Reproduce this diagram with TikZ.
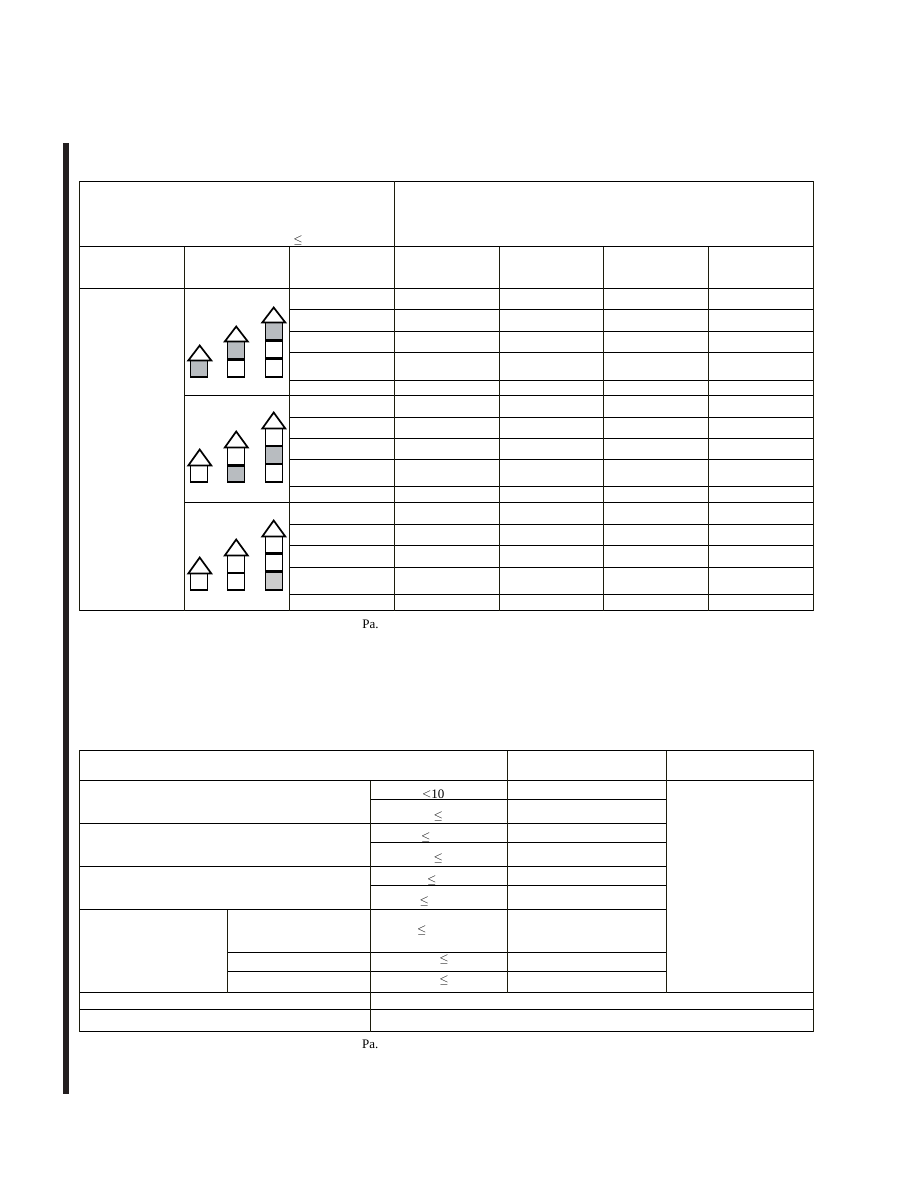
\documentclass[tikz,border=0pt]{standalone}
\usepackage{fontspec}
\setmainfont{Liberation Serif}
\definecolor{rule}{HTML}{1C1C0C}
\definecolor{barcolor}{HTML}{231F20}
\definecolor{shadeA}{HTML}{B8BCC0}
\definecolor{shadeB}{HTML}{CCCCCC}
\tikzset{
  grid line/.style={draw=rule,line width=1pt},
  hline/.style={draw=black,line width=1pt},
  wall/.style={draw=black,line width=1.9pt},
  floorline/.style={draw=black,line width=2.6pt},
  roof/.style={draw=black,line width=1.7pt,fill=white,line join=miter},
  label/.style={inner sep=0pt,font=\fontsize{13}{13}\selectfont},
  small label/.style={inner sep=0pt,font=\fontsize{13}{13}\selectfont}
}
\newcommand{\rooftop}[3]{%
  \draw[roof] (#1-2.2,#2) -- (#1+9.2,#3) -- (#1+20.8,#2) -- cycle;}
\begin{document}
\begin{tikzpicture}[x=1pt,y=-1pt]
\useasboundingbox (0,0) rectangle (918,1188);
\fill[white] (0,0) rectangle (918,1188);
% side bar
\fill[barcolor] (63,143) rectangle (69,1094);

% ---- table 1 ----
\foreach \y in {181.5,246.5,288.5,610.5} \draw[hline] (79.5,\y) -- (813.5,\y);
\foreach \y in {395.5,502.5} \draw[hline] (184.5,\y) -- (813.5,\y);
\foreach \y in {309.5,331.5,352.5,380.5,417.5,438.5,459.5,486.5,524.5,545.5,567.5,594.5}
  \draw[hline] (289.5,\y) -- (813.5,\y);
\foreach \x in {79.5,394.5,813.5} \draw[grid line] (\x,181) -- (\x,611);
\foreach \x in {184.5,289.5,499.5,603.5,708.5} \draw[grid line] (\x,246.5) -- (\x,611);

% ---- table 2 ----
\foreach \y in {750.5,780.5,992.5,1009.5,1031.5} \draw[hline] (79.5,\y) -- (813.5,\y);
\foreach \y in {823.5,866.5,909.5} \draw[hline] (79.5,\y) -- (666.5,\y);
\foreach \y in {799.5,842.5,885.5} \draw[hline] (370.5,\y) -- (666.5,\y);
\foreach \y in {952.5,971.5} \draw[hline] (227.5,\y) -- (666.5,\y);
\foreach \x in {79.5,813.5} \draw[grid line] (\x,750) -- (\x,1032);
\foreach \x in {507.5,666.5} \draw[grid line] (\x,750.5) -- (\x,992.5);
\draw[grid line] (370.5,780.5) -- (370.5,1031.5);
\draw[grid line] (227.5,909.5) -- (227.5,992.5);

% ---- houses, group 1 ----
\fill[shadeA] (190.5,360.5) rectangle (207.5,377);
\draw[wall] (190.5,360.5) rectangle (207.5,377);
\rooftop{190.5}{360.5}{345.5}
\fill[shadeA] (227.5,341.5) rectangle (244.5,359);
\draw[wall] (227.5,341.5) rectangle (244.5,377);
\draw[floorline] (227.5,359.5) -- (244.5,359.5);
\rooftop{227}{341.5}{326.5}
\fill[shadeA] (265.5,322.5) rectangle (282.5,340);
\draw[wall] (265.5,322.5) rectangle (282.5,377);
\draw[floorline] (265.5,340.5) -- (282.5,340.5);
\draw[floorline] (265.5,358.5) -- (282.5,358.5);
\rooftop{264.5}{322.5}{307.5}

% ---- houses, group 2 ----
\draw[wall] (190.5,465.5) rectangle (207.5,482);
\rooftop{190.5}{465.5}{449.5}
\fill[shadeA] (227.5,465.5) rectangle (244.5,482);
\draw[wall] (227.5,447.5) rectangle (244.5,482);
\draw[floorline] (227.5,465.5) -- (244.5,465.5);
\rooftop{227}{447.5}{431.5}
\fill[shadeA] (265.5,446) rectangle (282.5,464);
\draw[wall] (265.5,428.5) rectangle (282.5,482);
\draw[floorline] (265.5,446) -- (282.5,446);
\draw[floorline] (265.5,464) -- (282.5,464);
\rooftop{264.5}{428.5}{412.5}

% ---- houses, group 3 ----
\draw[wall] (190.5,573.5) rectangle (207.5,590);
\rooftop{190.5}{573.5}{557.5}
\draw[wall] (227.5,555.5) rectangle (244.5,590);
\draw[floorline] (227.5,573) -- (244.5,573);
\rooftop{227}{555.5}{539.5}
\fill[shadeB] (265.5,571.5) rectangle (282.5,590);
\draw[wall] (265.5,536.5) rectangle (282.5,590);
\draw[floorline] (265.5,553.5) -- (282.5,553.5);
\draw[floorline] (265.5,571.5) -- (282.5,571.5);
\rooftop{264.5}{536.5}{520.5}

% ---- texts ----
\node[label] (t0) at (298,240) {$\leq$};
\node[small label] (pa1) at (370.5,624.5) {Pa.};
\node[label] (a1) at (433.3,794.5) {$\leq$10};
\node[label] (a2) at (438.3,816) {$\leq$};
\node[label] (a3) at (425.7,837.3) {$\leq$};
\node[label] (a4) at (438.3,858.3) {$\leq$};
\node[label] (a5) at (431.7,880.3) {$\leq$};
\node[label] (a6) at (424.3,901.6) {$\leq$};
\node[label] (a7) at (421.7,930.6) {$\leq$};
\node[label] (a8) at (444,959) {$\leq$};
\node[label] (a9) at (444,980.3) {$\leq$};
\node[small label] (pa2) at (370.3,1044.7) {Pa.};
\end{tikzpicture}
\end{document}
